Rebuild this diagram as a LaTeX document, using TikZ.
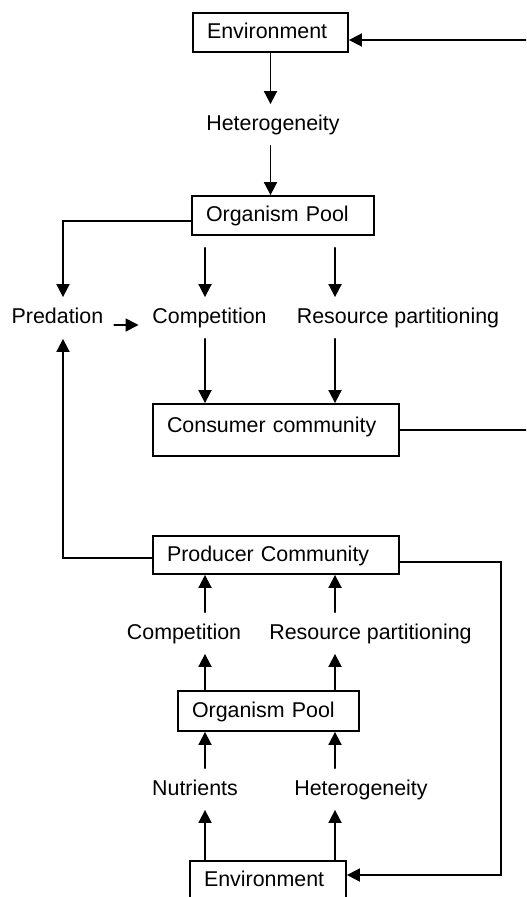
\documentclass[tikz,border=0pt]{standalone}
\usepackage{fontspec}
\setmainfont{Liberation Sans}
\usepackage{pgf,tikz}
\usetikzlibrary{arrows.meta}
\tikzset{
box/.style={draw,inner xsep=7pt,inner ysep=0pt,align=left,text height=8pt,text depth=2pt,minimum height=19.5pt},
lbl/.style={inner xsep=0pt,inner ysep=5pt,text height=8pt,text depth=2pt}
}
\begin{document}
\begin{tikzpicture}[line cap=round,>={Triangle[length=6.5pt,width=6.5pt]},x=0.5pt,y=-0.5pt,line width=0.9pt,font=\fontsize{10.7pt}{13pt}\selectfont]
\useasboundingbox (0,0) rectangle (526,897);
\clip (0,0) rectangle (526,897);
\coordinate (a) at (205,0);
\coordinate (b) at (335,0);
\coordinate (px) at (63,0);
\coordinate (rtop) at (526,40);
\coordinate (rbot) at (501,875);
% consumer side
\node [box,text width=63.5pt] (envtop) at (270.5,32.5) {Environment};
\node [lbl] (hettop) at (273,125) {Heterogeneity};
\node [box,text width=77pt] (pooltop) at (283,215.5) {Organism Pool};
\node [lbl] (pred) at (57.5,318) {Predation};
\node [lbl] (comp1) at (209.5,318) {Competition};
\node [lbl] (res1) at (398,318) {Resource partitioning};
\node [box,text width=109pt,text depth=5.3pt,minimum height=26pt] (consumer) at (276,430) {Consumer community};
% producer side
\node [box,text width=109pt,minimum height=19pt] (prod) at (276,555) {Producer Community};
\node [lbl] (comp2) at (184,633) {Competition};
\node [lbl] (res2) at (370.5,633) {Resource partitioning};
\node [box,text width=76.5pt,minimum height=20pt] (poolbot) at (268.5,711) {Organism Pool};
\node [lbl] (nutr) at (195,789) {Nutrients};
\node [lbl] (het2) at (361,789) {Heterogeneity};
\node [box,text width=64pt] (envbot) at (268,880.5) {Environment};
%
\draw [->] (rtop) -- (rtop -| envtop.east);
\draw [->] (envtop.south) -- (envtop.south |- hettop.north);
\draw [->] (hettop.south -| envtop.south) -- (pooltop.north -| envtop.south);
\draw [->] ([yshift=-2.75pt]pooltop.west) -| (pred.north -| px);
\draw [->,shorten <=6pt] (pooltop.south -| a) -- (comp1.north -| a);
\draw [->,shorten <=6pt] (pooltop.south -| b) -- (res1.north -| b);
\draw [->,shorten <=5pt,shorten >=6.5pt] ([yshift=-3.5pt]pred.east) -- ([yshift=-3.5pt]comp1.west);
\draw [->] (comp1.south -| a) -- (consumer.north -| a);
\draw [->] (res1.south -| b) -- (consumer.north -| b);
\draw (consumer.east) -- (consumer.east -| rtop);
%
\draw [->] ([yshift=-1.5pt]prod.west) -| (pred.south -| px);
\draw [->] ([yshift=-3.5pt]prod.east) -| (rbot) -- (rbot -| envbot.east);
\draw [->] (comp2.north -| a) -- (prod.south -| a);
\draw [->] (res2.north -| b) -- (prod.south -| b);
\draw [->] (poolbot.north -| a) -- (comp2.south -| a);
\draw [->] (poolbot.north -| b) -- (res2.south -| b);
\draw [->] (nutr.north -| a) -- (poolbot.south -| a);
\draw [->] (het2.north -| b) -- (poolbot.south -| b);
\draw [->] (envbot.north -| a) -- (nutr.south -| a);
\draw [->] (envbot.north -| b) -- (het2.south -| b);
\end{tikzpicture}
\end{document}
